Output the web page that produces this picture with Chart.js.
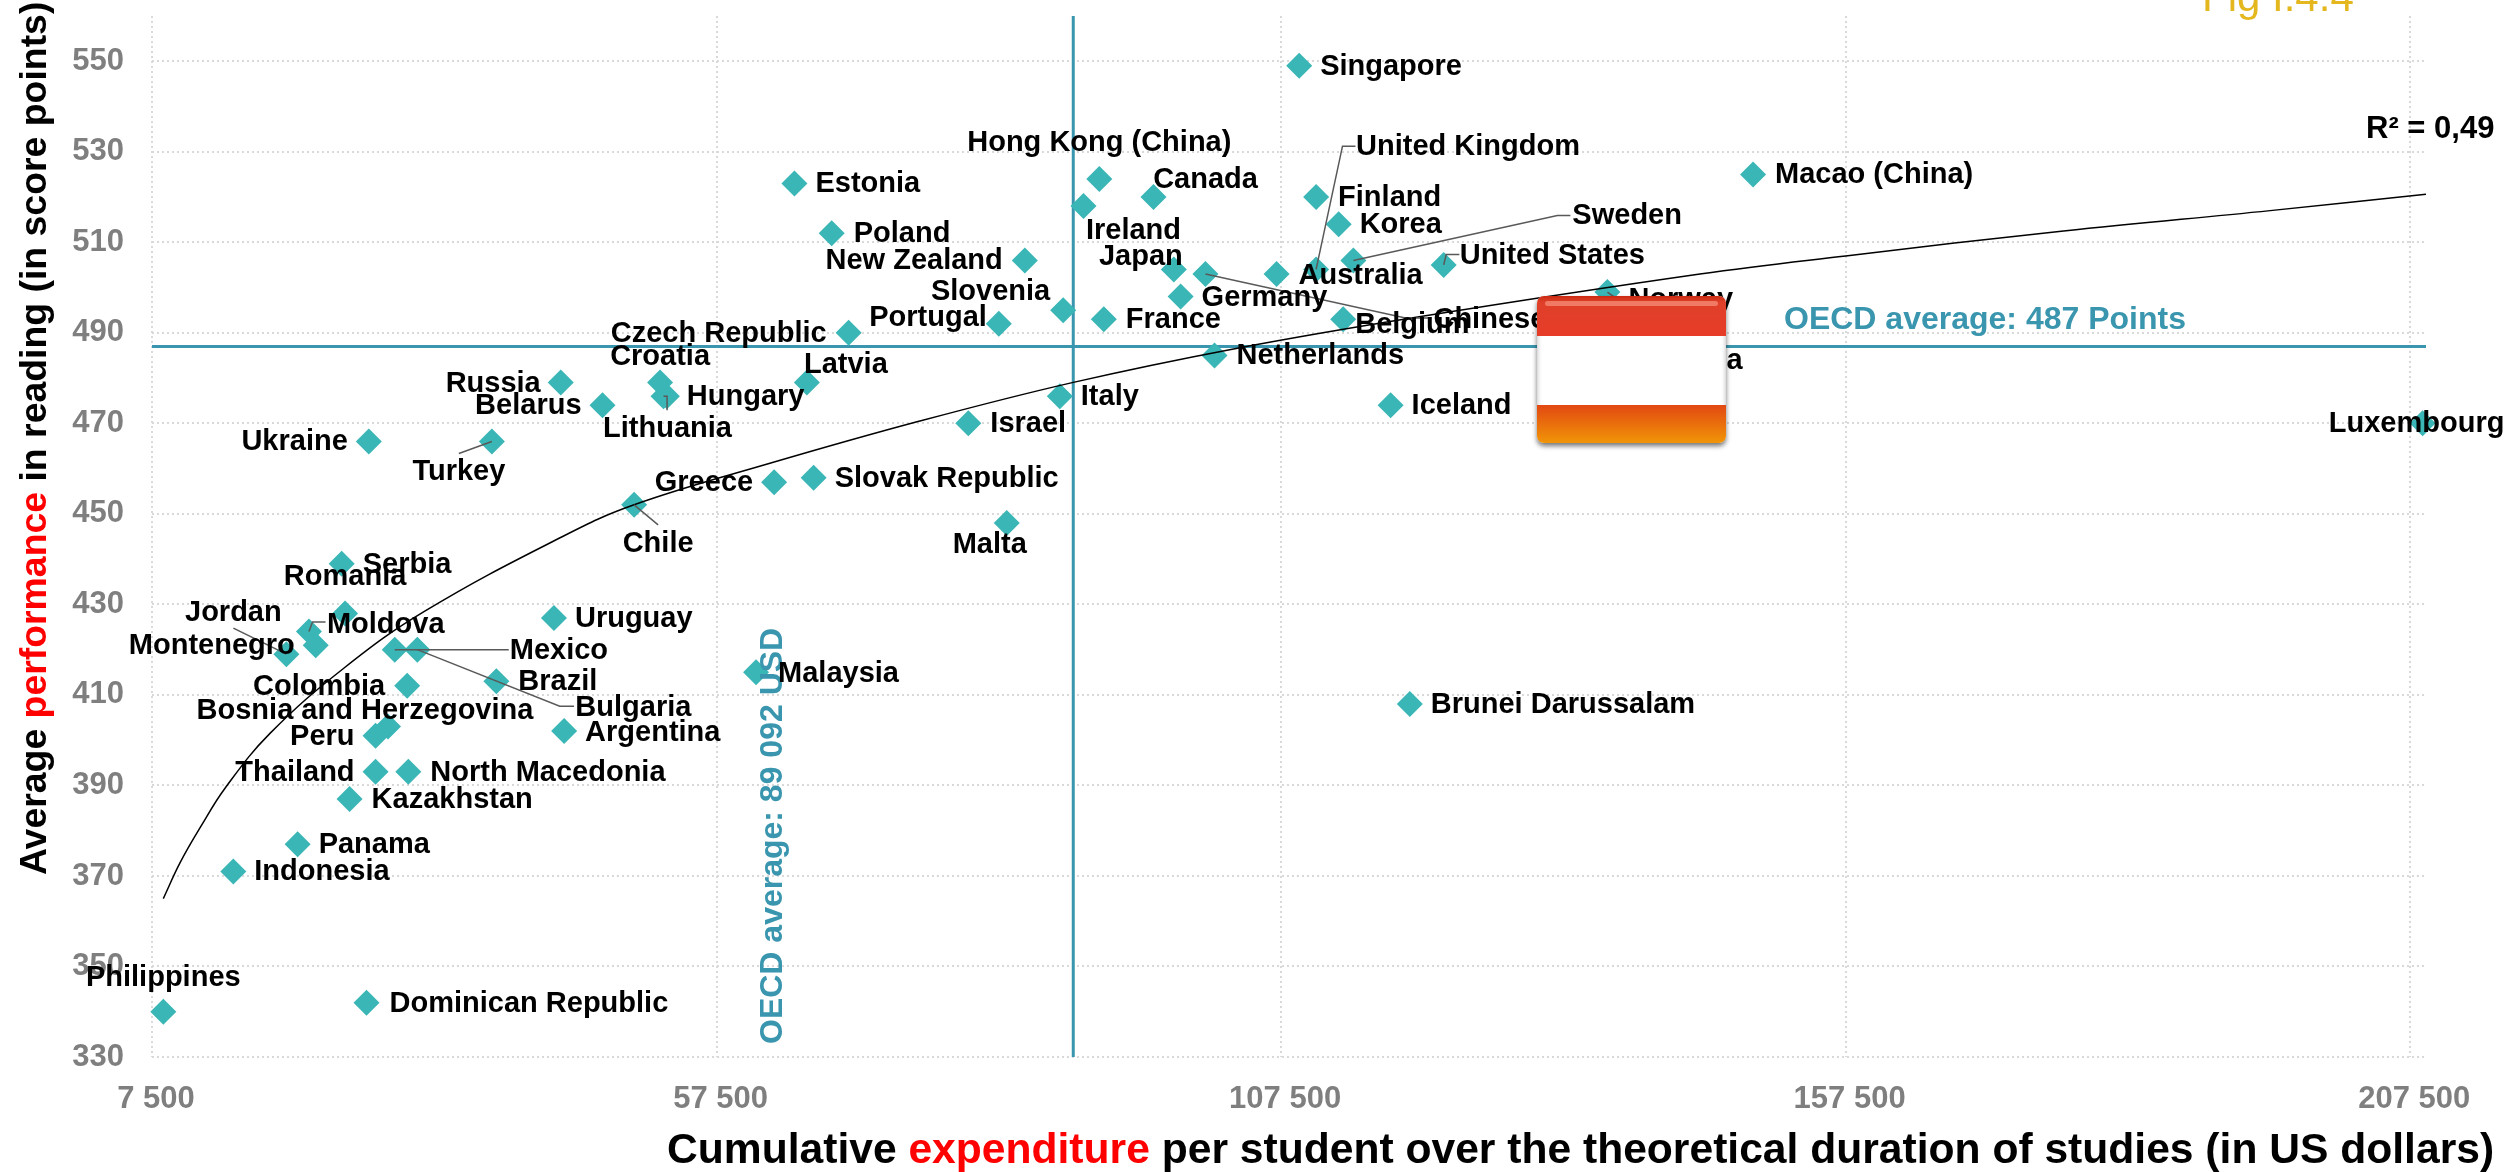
<!DOCTYPE html>
<html><head><meta charset="utf-8">
<style>html,body{margin:0;padding:0;background:#fff;overflow:hidden}canvas{display:block}</style>
<script src="https://cdn.jsdelivr.net/npm/chart.js@4/dist/chart.umd.min.js"></script>
</head><body><canvas id="c" width="2512" height="1172"></canvas>
<script>
const countries = ['Singapore','Macao (China)','Hong Kong (China)','Estonia','Canada','Finland','Ireland','Korea','Poland','Sweden','New Zealand','United States','United Kingdom','Japan','Australia','Chinese Taipei','Norway','Germany','Slovenia','Belgium','France','Portugal','Czech Republic','Netherlands','Austria','Croatia','Latvia','Russia','Italy','Hungary','Lithuania','Iceland','Belarus','Israel','Luxembourg','Ukraine','Turkey','Slovak Republic','Greece','Chile','Malta','Serbia','Romania','Uruguay','Moldova','Montenegro','Mexico','Bulgaria','Jordan','Malaysia','Brazil','Colombia','Brunei Darussalam','Bosnia and Herzegovina','Argentina','Peru','Thailand','North Macedonia','Kazakhstan','Panama','Indonesia','Dominican Republic','Philippines'];
const expenditure = [109100,149300,91400,64400,96200,110600,90000,112600,67700,113900,84800,121900,110600,98000,107100,100800,136400,98600,88200,113000,91800,82500,69200,101600,137500,52500,65500,43700,87900,53100,52800,117200,47400,79800,208600,26700,37600,66100,62600,50200,83200,24300,24600,43100,21400,22000,29000,31000,19400,61000,38000,30100,118900,28400,44000,27300,27300,30200,25000,20400,14700,26500,8500];
const readingScore = [549,525,524,523,520,520,518,514,512,506,506,505,504,504,503,503,499,498,495,493,493,492,490,485,484,479,479,479,476,476,476,474,474,470,470,466,466,458,457,452,448,439,428,427,424,421,420,420,419,415,413,412,408,403,402,401,393,393,387,377,371,342,340];
const trendX = [8500,10000,11840,14000,17950,24540,31660,43870,50200,62000,75500,89000,103400,119600,144600,157500,176800,195100,208900];
const trendY = [365,373,381,389.5,401.5,416,428.5,445,452,461,470.5,479,486.5,493.5,503,507,512.5,517,520.6];
const xTickValues = [7500,57500,107500,157500,207500];
const xTickLabels = ['7 500','57 500','107 500','157 500','207 500'];
const yTickValues = [330,350,370,390,410,430,450,470,490,510,530,550];
const oecdReading = 487;
const oecdExpenditure = 89092;
const xLimits = [7500,208900];
const yLimits = [330,560];

const TEAL='#3ab6b6', LINE='#3a96ae', FONT='"Liberation Sans",Arial,sans-serif';

/* label placement relative to each marker: [textAlign, dx, dy, optional leader polyline] */
const labelPlacement = {
 'Singapore':['left',21,0],'Macao (China)':['left',22,0],'Hong Kong (China)':['center',0,-37],'Estonia':['left',21,0],
 'Canada':['center',52,-18],'Finland':['left',22,0],'Ireland':['center',50,24],'Korea':['left',21,0],'Poland':['left',22,0],
 'Sweden':['left',219,-45,[[204,-45],[217,-45]]],'New Zealand':['right',-22,0],
 'United States':['left',16,-10,[[2.5,-10.4],[15.7,-10.4]]],
 'United Kingdom':['left',40,-123,[[26.4,-123.3],[39.4,-123.3]]],
 'Japan':['center',-33,-13],'Australia':['left',22,1],
 'Chinese Taipei':['left',228,45,[[200,44],[226,44]]],
 'Norway':['left',21,7,[[10.5,7.6]]],'Germany':['left',21,0],'Slovenia':['right',-13,-19],'Belgium':['left',12,5],
 'France':['left',22,0],'Portugal':['right',-12,-7],'Czech Republic':['right',-22,0],'Netherlands':['left',22,0],'Austria':['left',23,0],
 'Croatia':['center',0,-27],'Latvia':['center',39,-19],'Russia':['right',-20,0],'Italy':['left',21,0],'Hungary':['left',20,0],
 'Lithuania':['center',4,32,[[3.6,0],[3.6,14]]],'Iceland':['left',21,0],'Belarus':['right',-21,0],'Israel':['left',22,0],
 'Luxembourg':['center',-6,0],'Ukraine':['right',-21,0],'Turkey':['center',-33,30,[[-33,12]]],'Slovak Republic':['left',21,0],
 'Greece':['right',-21,0],'Chile':['center',24,38,[[24,20]]],'Malta':['center',-17,21],'Serbia':['left',21,0],'Romania':['center',0,-37],
 'Uruguay':['left',21,0],'Moldova':['left',18,-8,[[3.6,-9.6],[16.6,-9.6]]],'Montenegro':['right',-21,0],
 'Mexico':['left',115,0,[[114,0]]],'Bulgaria':['left',158,57,[[142.4,56.6],[156.7,56.6]]],
 'Jordan':['center',-53,-42,[[-53,-26]]],'Malaysia':['left',22,1],'Brazil':['left',22,0],'Colombia':['right',-22,0],
 'Brunei Darussalam':['left',21,0],'Bosnia and Herzegovina':['center',-23,-17],'Argentina':['left',21,1],'Peru':['right',-21,0],
 'Thailand':['right',-21,0],'North Macedonia':['left',22,0],'Kazakhstan':['left',22,0],'Panama':['left',21,0],'Indonesia':['left',21,0],
 'Dominican Republic':['left',23,0],'Philippines':['center',0,-35]
};

const overlay = {
 id:'overlay',
 afterDatasetsDraw(chart){
  const {ctx,scales:{x,y}} = chart;
  ctx.save();
  /* teal annotations */
  ctx.fillStyle=LINE; ctx.font='bold 32px '+FONT; ctx.textBaseline='alphabetic'; ctx.textAlign='left';
  ctx.fillText('OECD average: 487 Points',1784,329);
  ctx.save(); ctx.translate(782,1044); ctx.rotate(-Math.PI/2);
  ctx.fillText('OECD average: 89 092 USD',0,0); ctx.restore();
  /* leaders */
  ctx.strokeStyle='#595959'; ctx.lineWidth=1.5;
  countries.forEach((n,i)=>{
   const p=labelPlacement[n]; if(!p||!p[3])return;
   const px=x.getPixelForValue(expenditure[i]),py=y.getPixelForValue(readingScore[i]);
   ctx.beginPath(); ctx.moveTo(px,py);
   p[3].forEach(s=>ctx.lineTo(px+s[0],py+s[1])); ctx.stroke();
  });
  /* country labels */
  ctx.fillStyle='#000'; ctx.font='bold 29px '+FONT; ctx.textBaseline='middle';
  countries.forEach((n,i)=>{
   const p=labelPlacement[n]; if(!p)return;
   ctx.textAlign=p[0];
   ctx.fillText(n,x.getPixelForValue(expenditure[i])+p[1],y.getPixelForValue(readingScore[i])+p[2]+1);
  });
  /* R2 */
  ctx.font='bold 31px '+FONT; ctx.textAlign='left'; ctx.fillText('R² = 0,49',2366,129);
  /* figure tag */
  ctx.fillStyle='#e4b71f'; ctx.font='42px '+FONT; ctx.textBaseline='alphabetic'; ctx.fillText('Fig I.4.4',2202,11);
  /* axis titles with a red keyword */
  const seg=(parts)=>{let o=0;parts.forEach(([t,c])=>{ctx.fillStyle=c;ctx.fillText(t,o,0);o+=ctx.measureText(t).width;});};
  ctx.font='bold 42.6px '+FONT;
  ctx.save(); ctx.translate(667,1163);
  seg([['Cumulative ','#000'],['expenditure','#f00'],[' per student over the theoretical duration of studies (in US dollars)','#000']]);
  ctx.restore();
  ctx.font='bold 37.4px '+FONT;
  ctx.save(); ctx.translate(46,875); ctx.rotate(-Math.PI/2);
  seg([['Average ','#000'],['performance','#f00'],[' in reading (in score points)','#000']]);
  ctx.restore();
  /* Austrian flag badge */
  const fx=1537,fy=296,fw=189,fh=147,r=7;
  const rr=(a,b,w,h,q)=>{ctx.beginPath();ctx.roundRect(a,b,w,h,q);};
  ctx.save(); ctx.shadowColor='rgba(0,0,0,.55)'; ctx.shadowBlur=5; ctx.shadowOffsetY=3;
  ctx.fillStyle='#fff'; rr(fx,fy,fw,fh,r); ctx.fill(); ctx.restore();
  ctx.save(); rr(fx,fy,fw,fh,r); ctx.clip();
  let g=ctx.createLinearGradient(0,fy,0,fy+40); g.addColorStop(0,'#c92a10'); g.addColorStop(.15,'#e0402a'); g.addColorStop(1,'#e63c28');
  ctx.fillStyle=g; ctx.fillRect(fx,fy,fw,40);
  ctx.fillStyle='rgba(255,170,150,.55)'; rr(fx+8,fy+5,fw-16,5,3); ctx.fill();
  ctx.fillStyle='#fff'; ctx.fillRect(fx,fy+40,fw,69);
  g=ctx.createLinearGradient(fx,0,fx+fw,0); g.addColorStop(0,'#d8d8d8'); g.addColorStop(.03,'rgba(255,255,255,0)'); g.addColorStop(.97,'rgba(255,255,255,0)'); g.addColorStop(1,'#d8d8d8');
  ctx.fillStyle=g; ctx.fillRect(fx,fy+40,fw,69);
  g=ctx.createLinearGradient(0,fy+109,0,fy+fh); g.addColorStop(0,'#e24812'); g.addColorStop(1,'#f19507');
  ctx.fillStyle=g; ctx.fillRect(fx,fy+109,fw,fh-109);
  ctx.restore();
  ctx.restore();
 }
};

new Chart(document.getElementById('c'),{
 type:'scatter',
 data:{datasets:[
  {label:'Trend',data:trendX.map((v,i)=>({x:v,y:trendY[i]})),showLine:true,borderColor:'#000',borderWidth:1.5,pointRadius:0,tension:0.4,order:0},
  {label:'Countries',data:expenditure.map((v,i)=>({x:v,y:readingScore[i]})),pointStyle:'rectRot',pointRadius:13,backgroundColor:TEAL,borderColor:TEAL,borderWidth:0,clip:false,order:1},
  {label:'OECD reading',data:xLimits.map(v=>({x:v,y:oecdReading})),showLine:true,borderColor:LINE,borderWidth:3,pointRadius:0,order:2},
  {label:'OECD expenditure',data:yLimits.map(v=>({x:oecdExpenditure,y:v})),showLine:true,borderColor:LINE,borderWidth:3,pointRadius:0,order:2}
 ]},
 options:{
  responsive:false,animation:false,devicePixelRatio:1,
  layout:{padding:{left:0,top:16,right:86,bottom:0}},
  plugins:{legend:{display:false},tooltip:{enabled:false}},
  scales:{
   x:{type:'linear',min:xLimits[0],max:xLimits[1],
    afterBuildTicks:s=>{s.ticks=xTickValues.map(v=>({value:v}));},
    afterFit:s=>{s.height=115;s.paddingLeft=0;s.paddingRight=0;},
    grid:{color:'#d9d9d9',lineWidth:2,drawTicks:false},border:{display:false,dash:[2,3]},
    ticks:{padding:24,labelOffset:4,maxRotation:0,autoSkip:false,color:'#7f7f7f',font:{family:FONT,size:31,weight:'bold'},callback:(v,i)=>xTickLabels[i]}},
   y:{type:'linear',min:yLimits[0],max:yLimits[1],
    afterBuildTicks:s=>{s.ticks=yTickValues.map(v=>({value:v}));},
    afterFit:s=>{s.width=152;s.paddingTop=0;s.paddingBottom=0;},
    grid:{color:'#d9d9d9',lineWidth:2,drawTicks:false},border:{display:false,dash:[2,3]},
    ticks:{padding:28,autoSkip:false,color:'#7f7f7f',font:{family:FONT,size:31,weight:'bold'}}}
  }
 },
 plugins:[overlay]
});
</script></body></html>
